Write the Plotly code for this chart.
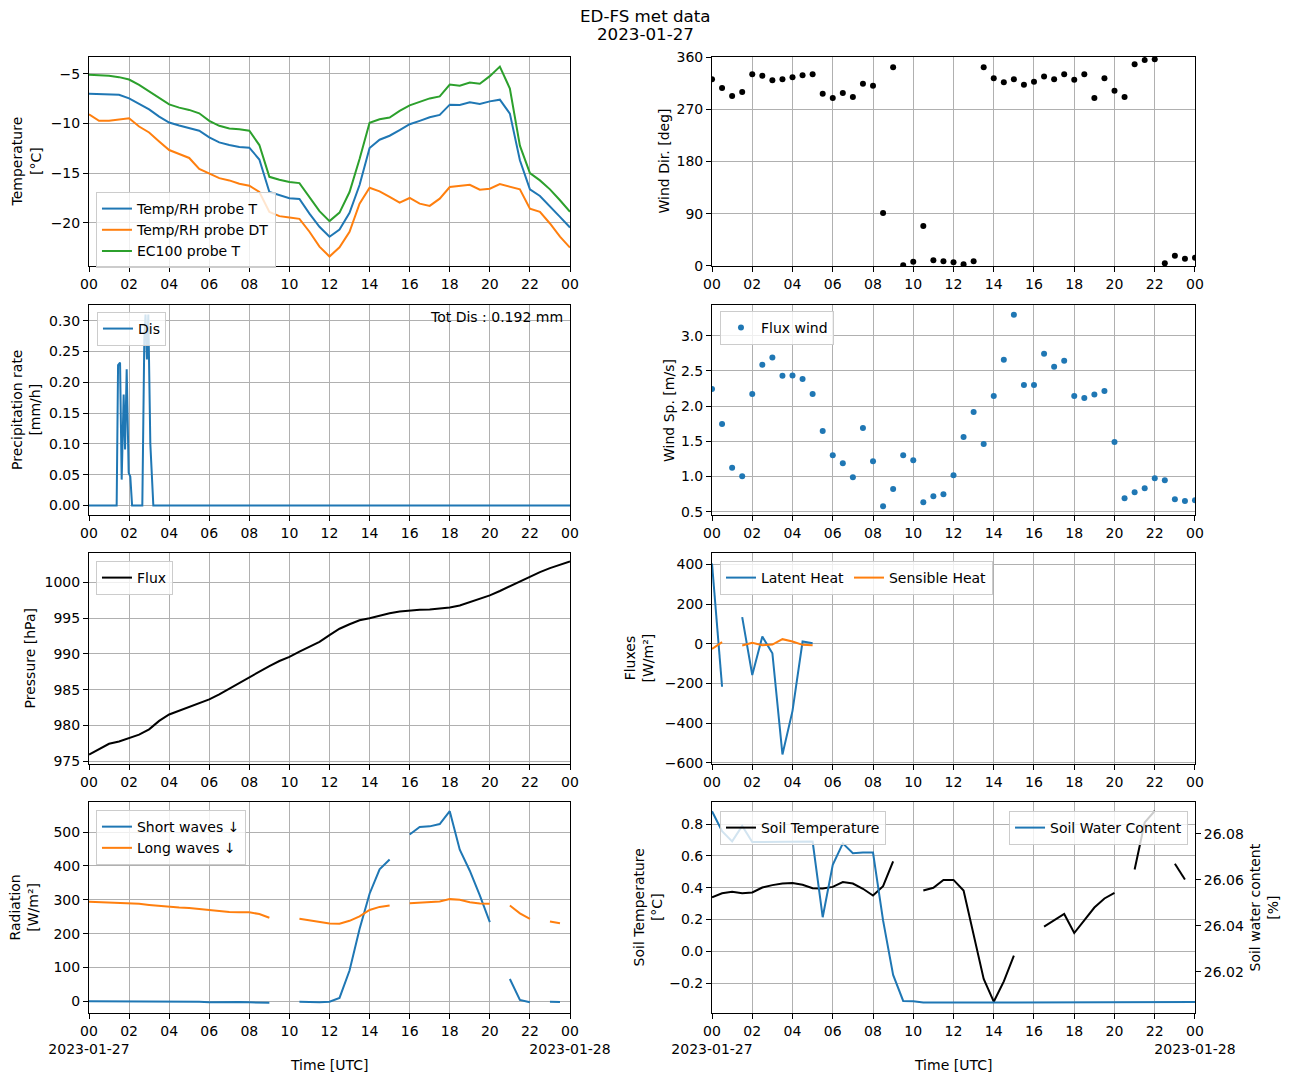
import pandas as pd
import plotly.graph_objects as go

# half-hourly time base for the day
times = pd.date_range("2023-01-27 00:00", "2023-01-28 00:00", freq="30min")
tick_times = pd.date_range("2023-01-27 00:00", "2023-01-28 00:00", freq="2h")
hour_labels = ["00", "02", "04", "06", "08", "10", "12", "14", "16", "18", "20", "22", "00"]
bottom_labels = ["00<br>2023-01-27"] + hour_labels[1:-1] + ["00<br>2023-01-28"]

temp_t = [-7.0, -7.05, -7.05, -7.1, -7.47, -8.0, -8.57, -9.3, -9.9, -10.2, -10.47, -10.73,
          -11.4, -11.9, -12.17, -12.37, -12.43, -13.63, -16.9, -17.23, -17.53, -17.6, -19.07,
          -20.4, -21.4, -20.67, -19.0, -16.2, -12.47, -11.63, -11.23, -10.67, -10.07, -9.73,
          -9.37, -9.13, -8.1, -8.13, -7.87, -8.03, -7.77, -7.6, -9.0, -13.7, -16.63, -17.3,
          -18.3, -19.4, -20.47]
temp_dt = [-9.07, -9.73, -9.73, -9.6, -9.47, -10.3, -10.9, -11.8, -12.67, -13.07, -13.47,
           -14.57, -15.07, -15.5, -15.73, -16.07, -16.27, -16.9, -18.9, -19.33, -19.47, -19.6,
           -20.9, -22.4, -23.4, -22.47, -20.9, -18.07, -16.47, -16.83, -17.4, -17.97, -17.5,
           -18.07, -18.3, -17.57, -16.4, -16.27, -16.17, -16.67, -16.57, -16.1, -16.37, -16.63,
           -18.57, -18.9, -20.07, -21.4, -22.5]
ec100_t = [-5.1, -5.15, -5.2, -5.33, -5.57, -6.1, -6.73, -7.4, -8.07, -8.4, -8.63, -8.97,
           -9.73, -10.23, -10.5, -10.57, -10.73, -12.17, -15.37, -15.67, -15.9, -16.0, -17.4,
           -18.83, -19.83, -18.97, -16.9, -13.57, -9.93, -9.57, -9.4, -8.73, -8.17, -7.83,
           -7.47, -7.27, -6.07, -6.2, -5.87, -6.0, -5.23, -4.27, -6.47, -12.23, -15.0, -15.73,
           -16.63, -17.73, -18.9]

wind_dir = [321.8, 306.5, 292.8, 299.6, 330.4, 327.5, 320.1, 321.8, 325.2, 328.7, 330.4,
            296.8, 289.4, 297.9, 291.1, 313.9, 310.4, 91.1, 342.3, 1.1, 7.4, 68.9, 9.7, 8.0,
            6.3, 2.8, 8.0, 342.3, 323.5, 316.7, 321.8, 312.1, 317.3, 326.4, 321.8, 330.4,
            320.7, 330.4, 289.4, 323.5, 301.9, 291.1, 347.5, 354.9, 356.0, 4.6, 17.7, 12.5, 14.2]
wind_sp = [2.244, 1.745, 1.123, 1.004, 2.173, 2.587, 2.691, 2.430, 2.434, 2.387, 2.173, 1.645,
           1.303, 1.189, 0.990, 1.688, 1.218, 0.576, 0.823, 1.303, 1.232, 0.633, 0.719, 0.747,
           1.018, 1.560, 1.916, 1.460, 2.145, 2.658, 3.299, 2.301, 2.301, 2.743, 2.558, 2.644,
           2.145, 2.116, 2.164, 2.216, 1.489, 0.690, 0.776, 0.833, 0.975, 0.947, 0.676, 0.652, 0.662]

precip_hours = [0, 1.38, 1.45, 1.55, 1.63, 1.73, 1.80, 1.88, 1.98, 2.06, 2.15, 2.66, 2.76,
                2.82, 2.89, 2.96, 3.06, 3.21, 24]
precip_rate = [0, 0, 0.228, 0.232, 0.042, 0.180, 0.091, 0.221, 0.053, 0.047, 0, 0, 0.27,
               0.31, 0.237, 0.31, 0.10, 0, 0]
precip_total = 0.192

pressure = [975.94, 976.74, 977.44, 977.77, 978.24, 978.71, 979.46, 980.64, 981.53, 982.05,
            982.57, 983.13, 983.65, 984.35, 985.15, 985.9, 986.65, 987.5, 988.3, 989.0, 989.57,
            990.32, 990.98, 991.68, 992.62, 993.51, 994.13, 994.69, 994.97, 995.35, 995.68,
            995.91, 996.05, 996.15, 996.19, 996.33, 996.48, 996.76, 997.23, 997.65, 998.17,
            998.78, 999.44, 1000.14, 1000.85, 1001.41, 1001.97, 1002.44, 1002.91]

latent = [405, -216.6, None, 134.8, -157.4, 36.8, -47.6, -557.8, -338.2, 11.5, 3.0] + [None] * 38
sensible = [-25.7, 8.1, None, -8.8, 4.7, -7.1, -3.7, 23.3, 11.5, -5.4, -7.1] + [None] * 38

sw_down = [0, 0, 0, 0, 0, 0, 0, 0, 0, 0, 0, -1, -3, -2, -2, -2, -3, -4, -4, None, None, -1,
           -3, -3, -1, 10, 91, 214, 318, 390, 419, None, 493, 515, 517, 524, 562, 448, 386, 313,
           234, None, 66, 4, -3, None, -1, -2, None]
lw_down = [293.9, 292.9, 292, 291.5, 291, 288, 285, 282, 279, 277, 276, 273, 269, 266, 264,
           263, 263, 258, 247, None, None, 244, 240, 234, 230, 229, 238, 251, 270, 279, 283,
           None, 290, 291, 294, 295, 302, 300, 293, 289, 288, None, 283, 260, 244, None, 236,
           231, None]

soil_t = [0.340, 0.365, 0.374, 0.365, 0.370, 0.401, 0.416, 0.426, 0.430, 0.418, 0.397, 0.395,
          0.405, 0.435, 0.426, 0.393, 0.351, 0.409, 0.565, None, None, 0.382, 0.399, 0.449,
          0.449, 0.382, 0.099, -0.174, -0.317, -0.189, -0.027, None, None, 0.155, 0.193,
          0.235, 0.115, 0.197, 0.275, 0.332, 0.367, None, 0.514, 0.81, 0.882, None, 0.550,
          0.451, None]
soil_wc = [26.0899, 26.0812, 26.0768, 26.0835, 26.0765, 26.0765, 26.0767, 26.0765, 26.0767,
           26.0767, 26.0767, 26.0438, 26.0666, 26.0759, 26.0716, 26.0719, 26.0719, 26.0424,
           26.0187, 26.0074, 26.0073, 26.0067, 26.0067, 26.0067, 26.0068, 26.0068, 26.0067,
           26.0067, 26.0068, 26.0068, 26.0068, 26.0068, 26.0067, 26.0067, 26.0067, 26.0068,
           26.0069, 26.0069, 26.0068, 26.0068, 26.0069, 26.0068, 26.0068, 26.0069, 26.0069,
           26.0070, 26.0070, 26.0069, 26.0069]

C0, C1, C2 = "#1f77b4", "#ff7f0e", "#2ca02c"
FONT = "DejaVu Sans"
precip_times = pd.Timestamp("2023-01-27") + pd.to_timedelta(precip_hours, unit="h")

fig = go.Figure()


def line(x, y, name, color, xa, ya, leg, show=True):
    fig.add_trace(go.Scatter(x=x, y=y, name=name, mode="lines", xaxis=xa, yaxis=ya,
                             line=dict(color=color, width=2), legend=leg, showlegend=show,
                             connectgaps=False))


line(times, temp_t, "Temp/RH probe T", C0, "x", "y", "legend")
line(times, temp_dt, "Temp/RH probe DT", C1, "x", "y", "legend")
line(times, ec100_t, "EC100 probe T", C2, "x", "y", "legend")

fig.add_trace(go.Scatter(x=times, y=wind_dir, mode="markers", xaxis="x2", yaxis="y2",
                         marker=dict(color="black", size=6), showlegend=False))

line(precip_times, precip_rate, "Dis", C0, "x3", "y3", "legend2")

fig.add_trace(go.Scatter(x=times, y=wind_sp, mode="markers", name="Flux wind", xaxis="x4",
                         yaxis="y4", marker=dict(color=C0, size=6), legend="legend3"))

line(times, pressure, "Flux", "black", "x5", "y5", "legend4")

line(times, latent, "Latent Heat", C0, "x6", "y6", "legend5")
line(times, sensible, "Sensible Heat", C1, "x6", "y6", "legend5")

line(times, sw_down, "Short waves \u2193", C0, "x7", "y7", "legend6")
line(times, lw_down, "Long waves \u2193", C1, "x7", "y7", "legend6")

line(times, soil_t, "Soil Temperature", "black", "x8", "y8", "legend7")
line(times, soil_wc, "Soil Water Content", C0, "x8", "y9", "legend8")

left_dom, right_dom = [0, 0.4349], [0.5633, 1.0]
rows = [[0.7814, 1.0], [0.5209, 0.7406], [0.2605, 0.4812], [0.0, 0.2207]]

axis_style = dict(showline=True, linecolor="black", linewidth=1, mirror=True, ticks="outside",
                  ticklen=5, tickcolor="black", showgrid=True, gridcolor="#b0b0b0",
                  gridwidth=0.8, zeroline=False, tickfont=dict(size=14, color="black"))

x_range = ["2023-01-27 00:00", "2023-01-28 00:00"]
layout = {}
for i in range(8):
    key = "xaxis" if i == 0 else f"xaxis{i + 1}"
    bottom = i >= 6
    layout[key] = dict(axis_style, domain=left_dom if i % 2 == 0 else right_dom,
                       anchor="y" if i == 0 else f"y{i + 1}", type="date", range=x_range,
                       tickvals=tick_times, ticktext=bottom_labels if bottom else hour_labels,
                       tickangle=0)

y_specs = [
    dict(range=[-24.35, -3.3], dtick=5, tick0=0),
    dict(range=[0, 360], tickvals=[0, 90, 180, 270, 360]),
    dict(range=[-0.0155, 0.3255], dtick=0.05, tick0=0, tickformat=".2f"),
    dict(range=[0.4525, 3.437], dtick=0.5, tick0=0, tickformat=".1f"),
    dict(range=[974.62, 1004.09], dtick=5, tick0=0),
    dict(range=[-606, 458], dtick=200, tick0=0),
    dict(range=[-34.5, 589], dtick=100, tick0=0),
    dict(range=[-0.388, 0.9386], dtick=0.2, tick0=0, tickformat=".1f"),
]
for i, spec in enumerate(y_specs):
    key = "yaxis" if i == 0 else f"yaxis{i + 1}"
    layout[key] = dict(axis_style, domain=rows[i // 2], anchor="x" if i == 0 else f"x{i + 1}",
                       **spec)
layout["yaxis9"] = dict(axis_style, overlaying="y8", anchor="x8", side="right", showgrid=False,
                        range=[26.00215, 26.0939], tickvals=[26.02, 26.04, 26.06, 26.08],
                        tickformat=".2f", domain=rows[3])

leg = dict(bgcolor="rgba(255,255,255,0.8)", bordercolor="#cccccc", borderwidth=1,
           xanchor="left", yanchor="top", font=dict(size=14, color="black"))
layout["legend"] = dict(leg, x=0.0063, y=0.8588)
layout["legend2"] = dict(leg, x=0.0072, y=0.7333)
layout["legend3"] = dict(leg, x=0.5705, y=0.7343)
layout["legend4"] = dict(leg, x=0.0063, y=0.4728)
layout["legend5"] = dict(leg, x=0.5705, y=0.4728, orientation="h")
layout["legend6"] = dict(leg, x=0.0063, y=0.2123)
layout["legend7"] = dict(leg, x=0.5705, y=0.2113)
layout["legend8"] = dict(leg, x=0.9937, y=0.2113, xanchor="right")

fig.update_layout(**layout)

ytitles = [
    ("Temperature<br>[\u00b0C]", -0.0561, 0.8907),
    ("Wind Dir. [deg]", 0.5199, 0.8907),
    ("Precipitation rate<br>[mm/h]", -0.0570, 0.6308),
    ("Wind Sp. [m/s]", 0.5244, 0.6308),
    ("Pressure [hPa]", -0.0533, 0.3709),
    ("Fluxes<br>[W/m\u00b2]", 0.4973, 0.3709),
    ("Radiation<br>[W/m\u00b2]", -0.0588, 0.1104),
    ("Soil Temperature<br>[\u00b0C]", 0.5054, 0.1104),
    ("Soil water content<br>[%]", 1.0624, 0.1104),
]
for text, xp, yp in ytitles:
    fig.add_annotation(text=text, x=xp, y=yp, xref="paper", yref="paper", textangle=-90,
                       showarrow=False, font=dict(size=14, color="black"),
                       xanchor="center", yanchor="middle")
for xp in [0.217, 0.7812]:
    fig.add_annotation(text="Time [UTC]", x=xp, y=-0.0544, xref="paper", yref="paper",
                       showarrow=False, font=dict(size=14, color="black"),
                       xanchor="center", yanchor="middle")
fig.add_annotation(text=f"Tot Dis : {precip_total} mm", x=0.4304, y=0.7385, xref="paper",
                   yref="paper", showarrow=False, xanchor="right", yanchor="top",
                   font=dict(size=14, color="black"))

# suptitle, two lines
fig.add_annotation(text="ED-FS met data", x=0.5033, y=1.0434, xref="paper", yref="paper",
                   showarrow=False, xanchor="center", yanchor="middle",
                   font=dict(size=16.7, color="black"))
fig.add_annotation(text="2023-01-27", x=0.5033, y=1.0240, xref="paper", yref="paper",
                   showarrow=False, xanchor="center", yanchor="middle",
                   font=dict(size=16.7, color="black"))

# page body keeps an 8px margin, so the figure is sized to land on the same pixels
fig.update_layout(
    width=1282, height=1075,
    margin=dict(l=81, r=95, t=49, b=70),
    paper_bgcolor="white", plot_bgcolor="white",
    font=dict(family=FONT, size=14, color="black"),
)

fig.write_html("out.html")
